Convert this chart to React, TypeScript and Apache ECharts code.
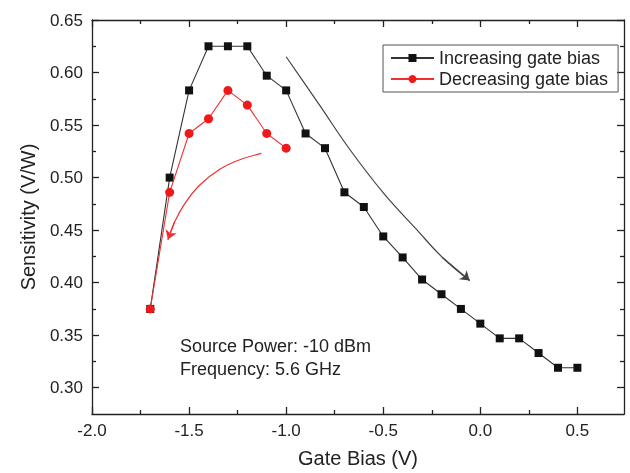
import React, { useEffect, useRef } from "react";
import * as echarts from "echarts";

// Gate bias (V) for each series
const incX = [-1.7, -1.6, -1.5, -1.4, -1.3, -1.2, -1.1, -1.0, -0.9, -0.8, -0.7, -0.6, -0.5, -0.4, -0.3, -0.2, -0.1, 0.0, 0.1, 0.2, 0.3, 0.4, 0.5];
const incY = [0.375, 0.5, 0.583, 0.625, 0.625, 0.625, 0.597, 0.583, 0.542, 0.528, 0.486, 0.472, 0.444, 0.424, 0.403, 0.389, 0.375, 0.361, 0.347, 0.347, 0.333, 0.319, 0.319];
const decX = [-1.7, -1.6, -1.5, -1.4, -1.3, -1.2, -1.1, -1.0];
const decY = [0.375, 0.486, 0.542, 0.556, 0.583, 0.569, 0.542, 0.528];

// Annotation arrows (data coordinates)
const blackArrow = [[-1.0, 0.615], [-0.828, 0.569], [-0.673, 0.527], [-0.493, 0.484], [-0.33, 0.451], [-0.195, 0.424], [-0.055, 0.402]];
const redArrow = [[-1.128, 0.523], [-1.239, 0.517], [-1.342, 0.508], [-1.445, 0.493], [-1.523, 0.475], [-1.574, 0.458], [-1.609, 0.441]];

// Ticks
const xMajor = [-2.0, -1.5, -1.0, -0.5, 0.0, 0.5];
const xMinor = [-1.75, -1.25, -0.75, -0.25, 0.25];
const yMajor = [0.3, 0.35, 0.4, 0.45, 0.5, 0.55, 0.6, 0.65];
const yMinor = [0.325, 0.375, 0.425, 0.475, 0.525, 0.575, 0.625];

const seriesNames = ["Increasing gate bias", "Decreasing gate bias"];
const xTitle = "Gate Bias (V)";
const yTitle = "Sensitivity (V/W)";
const noteText = "Source Power: -10 dBm\nFrequency: 5.6 GHz";

const FONT = "'Liberation Sans', Arial, sans-serif";
const TXT = "#222";
const AX = "#222";

export default function App() {
  const ref = useRef<HTMLDivElement>(null);
  useEffect(() => {
    if (!ref.current) return;
    const chart = echarts.init(ref.current, null, { renderer: "svg" });
    const xRange = { min: -2.0, max: 0.74 };
    const yRange = { min: 0.275, max: 0.65 };
    const mkX = (pos: string, ticks: number[], len: number, line: boolean, labels: boolean, extra: any = {}) => ({
      type: "value",
      position: pos,
      ...xRange,
      axisLine: { show: line, onZero: false, lineStyle: { color: AX, width: 1.3 } },
      axisTick: { show: true, inside: true, length: len, customValues: ticks, lineStyle: { color: AX, width: 1.3 } },
      axisLabel: labels
        ? { show: true, customValues: ticks, formatter: (v: number) => v.toFixed(1), fontSize: 17, color: TXT, fontFamily: FONT, margin: 8 }
        : { show: false },
      splitLine: { show: false },
      ...extra,
    });
    const mkY = (pos: string, ticks: number[], len: number, line: boolean, labels: boolean, extra: any = {}) => ({
      type: "value",
      position: pos,
      ...yRange,
      axisLine: { show: line, onZero: false, lineStyle: { color: AX, width: 1.3 } },
      axisTick: { show: true, inside: true, length: len, customValues: ticks, lineStyle: { color: AX, width: 1.3 } },
      axisLabel: labels
        ? { show: true, customValues: ticks, formatter: (v: number) => v.toFixed(2), fontSize: 17, color: TXT, fontFamily: FONT, margin: 9 }
        : { show: false },
      splitLine: { show: false },
      ...extra,
    });
    const arrowSeries = (pts: number[][], color: string) => ({
      type: "line",
      data: pts,
      smooth: 0.4,
      symbol: "none",
      silent: true,
      lineStyle: { color, width: 1.2 },
      z: 1,
      markLine: {
        silent: true,
        symbol: ["none", "arrow"],
        symbolSize: 9,
        label: { show: false },
        lineStyle: { color, width: 1.2, type: "solid" },
        data: [[{ coord: pts[pts.length - 2] }, { coord: pts[pts.length - 1] }]],
      },
    });
    chart.setOption({
      animation: false,
      grid: { left: 92, right: 6, top: 20, bottom: 56 },
      legend: {
        data: seriesNames,
        orient: "vertical",
        left: 383,
        top: 45,
        padding: [4, 10, 4, 7],
        itemGap: 3,
        itemWidth: 43,
        itemHeight: 10,
        borderColor: "#555",
        borderWidth: 1,
        textStyle: { fontSize: 18, color: TXT, fontFamily: FONT },
      },
      xAxis: [
        mkX("bottom", xMajor, 7, true, true, {
          name: xTitle,
          nameLocation: "middle",
          nameGap: 34,
          nameTextStyle: { fontSize: 20, color: TXT, fontFamily: FONT },
        }),
        mkX("bottom", xMinor, 4, false, false),
        mkX("top", xMajor, 7, true, false),
        mkX("top", xMinor, 4, false, false),
      ],
      yAxis: [
        mkY("left", yMajor, 7, true, true, {
          name: yTitle,
          nameLocation: "middle",
          nameGap: 54,
          nameTextStyle: { fontSize: 20, color: TXT, fontFamily: FONT },
        }),
        mkY("left", yMinor, 4, false, false),
        mkY("right", yMajor, 7, true, false),
        mkY("right", yMinor, 4, false, false),
      ],
      graphic: [
        {
          type: "text",
          left: 180,
          top: 334,
          style: { text: noteText, font: `18px ${FONT}`, fill: TXT, lineHeight: 23 },
        },
      ],
      series: [
        arrowSeries(blackArrow, "#444"),
        arrowSeries(redArrow, "#f03030"),
        {
          type: "line",
          name: seriesNames[0],
          data: incX.map((x, i) => [x, incY[i]]),
          symbol: "rect",
          symbolSize: 8,
          itemStyle: { color: "#111" },
          lineStyle: { color: "#333", width: 1.1 },
          z: 2,
        },
        {
          type: "line",
          name: seriesNames[1],
          data: decX.map((x, i) => [x, decY[i]]),
          symbol: "circle",
          symbolSize: 9,
          itemStyle: { color: "#f01818" },
          lineStyle: { color: "#f03030", width: 1.1 },
          z: 3,
        },
      ],
    });
    return () => chart.dispose();
  }, []);
  return <div ref={ref} style={{ position: "fixed", left: 0, top: 0, width: 630, height: 473 }} />;
}
